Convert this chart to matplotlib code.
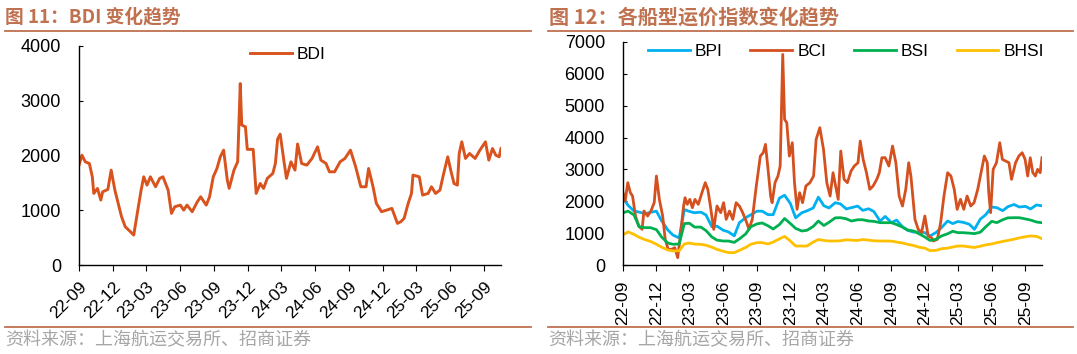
"""
BDI 与各船型运价指数走势（图11、图12）
"""
import matplotlib
matplotlib.use('Agg')
import matplotlib.pyplot as plt
from matplotlib.lines import Line2D
import matplotlib.dates as mdates
import pandas as pd

plt.rcParams['font.family'] = ['Liberation Sans', 'Noto Sans CJK SC', 'DejaVu Sans']
plt.rcParams['axes.unicode_minus'] = False

# ---- 图11 BDI ----
bdi_dates = [
    '2022-09-01', '2022-09-09', '2022-09-18', '2022-09-29', '2022-10-07', '2022-10-11',
    '2022-10-21', '2022-10-30', '2022-11-04', '2022-11-18', '2022-11-27', '2022-12-07',
    '2022-12-16', '2022-12-25', '2023-01-04', '2023-01-18', '2023-01-27', '2023-02-07',
    '2023-02-16', '2023-02-23', '2023-03-04', '2023-03-13', '2023-03-27', '2023-04-07',
    '2023-04-16', '2023-04-30', '2023-05-09', '2023-05-18', '2023-06-02', '2023-06-11',
    '2023-06-20', '2023-07-04', '2023-07-18', '2023-07-27', '2023-08-11', '2023-08-20',
    '2023-08-30', '2023-09-09', '2023-09-18', '2023-09-27', '2023-10-07', '2023-10-12',
    '2023-10-25', '2023-11-04', '2023-11-11', '2023-11-15', '2023-11-25', '2023-11-30',
    '2023-12-16', '2023-12-24', '2024-01-04', '2024-01-13', '2024-01-23', '2024-02-07',
    '2024-02-14', '2024-02-20', '2024-02-27', '2024-03-09', '2024-03-15', '2024-03-27',
    '2024-04-07', '2024-04-14', '2024-04-25', '2024-05-09', '2024-05-23', '2024-06-07',
    '2024-06-16', '2024-06-30', '2024-07-09', '2024-07-23', '2024-08-07', '2024-08-20',
    '2024-09-04', '2024-09-18', '2024-10-02', '2024-10-16', '2024-10-23', '2024-11-04',
    '2024-11-13', '2024-11-27', '2024-12-11', '2024-12-25', '2025-01-09', '2025-01-18',
    '2025-01-27', '2025-02-07', '2025-02-16', '2025-02-20', '2025-03-09', '2025-03-18',
    '2025-04-02', '2025-04-11', '2025-04-22', '2025-05-04', '2025-05-13', '2025-05-25',
    '2025-06-02', '2025-06-11', '2025-06-20', '2025-06-25', '2025-07-02', '2025-07-12',
    '2025-07-23', '2025-08-07', '2025-08-20', '2025-09-04', '2025-09-13', '2025-09-23',
    '2025-10-02', '2025-10-11', '2025-10-16',
]
bdi = [
    1824, 2006, 1885, 1854, 1611, 1307, 1398, 1186, 1337, 1380, 1733, 1368,
    1125, 882, 699, 608, 547, 1003, 1368, 1611, 1459, 1611, 1429, 1581,
    1611, 1368, 942, 1064, 1094, 1003, 1094, 973, 1155, 1246, 1094, 1246,
    1611, 1763, 1976, 2098, 1550, 1400, 1733, 1885, 3314, 2557, 2523, 2112,
    2112, 1307, 1489, 1398, 1581, 1672, 1854, 2300, 2390, 1854, 1583, 1885,
    1733, 2210, 1854, 1824, 1946, 2158, 1915, 1854, 1702, 1702, 1885, 1946,
    2098, 1794, 1429, 1429, 1763, 1429, 1125, 973, 1003, 1034, 760, 790,
    851, 1125, 1307, 1642, 1611, 1277, 1307, 1429, 1307, 1368, 1642, 1976,
    1733, 1489, 1459, 2037, 2250, 1946, 2037, 1946, 2098, 2250, 1915, 2128,
    2006, 1976, 2128,
]

# ---- 图12 BCI（周度波动大，单独取点）----
bci_dates = [
    '2022-09-01', '2022-09-07', '2022-09-14', '2022-09-21', '2022-09-27', '2022-10-05',
    '2022-10-14', '2022-10-23', '2022-10-28', '2022-11-07', '2022-11-16', '2022-11-25',
    '2022-12-01', '2022-12-09', '2022-12-18', '2022-12-25', '2023-01-02', '2023-01-11',
    '2023-01-20', '2023-01-28', '2023-02-04', '2023-02-13', '2023-02-17', '2023-02-23',
    '2023-03-02', '2023-03-09', '2023-03-16', '2023-03-25', '2023-04-04', '2023-04-13',
    '2023-04-20', '2023-04-27', '2023-05-06', '2023-05-15', '2023-05-25', '2023-06-02',
    '2023-06-09', '2023-06-18', '2023-06-27', '2023-07-06', '2023-07-15', '2023-07-24',
    '2023-08-04', '2023-08-10', '2023-08-19', '2023-08-30', '2023-09-10', '2023-09-18',
    '2023-09-24', '2023-10-01', '2023-10-08', '2023-10-12', '2023-10-20', '2023-10-28',
    '2023-11-03', '2023-11-10', '2023-11-15', '2023-11-21', '2023-11-28', '2023-12-06',
    '2023-12-12', '2023-12-19', '2023-12-26', '2024-01-03', '2024-01-12', '2024-01-23',
    '2024-02-02', '2024-02-09', '2024-02-19', '2024-02-29', '2024-03-09', '2024-03-18',
    '2024-03-26', '2024-04-02', '2024-04-09', '2024-04-16', '2024-04-25', '2024-05-04',
    '2024-05-14', '2024-05-23', '2024-06-02', '2024-06-08', '2024-06-16', '2024-06-25',
    '2024-07-04', '2024-07-13', '2024-07-23', '2024-07-30', '2024-08-06', '2024-08-15',
    '2024-08-25', '2024-09-04', '2024-09-13', '2024-09-22', '2024-10-01', '2024-10-10',
    '2024-10-18', '2024-10-24', '2024-11-04', '2024-11-13', '2024-11-22', '2024-12-01',
    '2024-12-10', '2024-12-19', '2024-12-24', '2025-01-04', '2025-01-13', '2025-01-22',
    '2025-02-01', '2025-02-10', '2025-02-19', '2025-02-27', '2025-03-08', '2025-03-17',
    '2025-03-26', '2025-04-05', '2025-04-14', '2025-04-24', '2025-05-03', '2025-05-12',
    '2025-05-20', '2025-05-24', '2025-05-29', '2025-06-05', '2025-06-14', '2025-06-23',
    '2025-06-30', '2025-07-09', '2025-07-18', '2025-07-25', '2025-08-05', '2025-08-14',
    '2025-08-23', '2025-08-31', '2025-09-07', '2025-09-14', '2025-09-21', '2025-09-28',
    '2025-10-04', '2025-10-11', '2025-10-16',
]
bci = [
    2270, 2008, 2584, 2270, 2165, 1538, 1224, 1119, 1695, 1538, 1695, 1956,
    2793, 2060, 1538, 805, 492, 492, 544, 230, 910, 1851, 2113, 1904,
    2060, 1799, 2060, 1904, 2270, 2584, 2374, 1851, 1119, 1851, 1642, 1956,
    1433, 1695, 1433, 1956, 1851, 1642, 1328, 1119, 1433, 2479, 3420, 3525,
    3787, 3002, 2165, 1956, 2584, 2793, 3107, 6611, 4571, 4467, 3420, 3839,
    2584, 1747, 2270, 1956, 2479, 2584, 2793, 3944, 4310, 3630, 2584, 2165,
    2897, 2479, 2060, 3577, 2688, 2584, 2950, 3107, 3211, 3891, 3316, 2897,
    2374, 2479, 2688, 2897, 3368, 3368, 3107, 3734, 3211, 2165, 1851, 2374,
    3211, 2793, 1433, 1119, 1015, 1538, 910, 858, 753, 805, 1328, 2165,
    2897, 2793, 2374, 1747, 2060, 1747, 2165, 1851, 1956, 2374, 2897, 3420,
    3211, 2270, 1642, 3002, 3211, 3839, 3316, 3264, 3211, 2688, 3211, 3420,
    3525, 3316, 2793, 3368, 2897, 2793, 3002, 2897, 3368,
]

# ---- 图12 BPI / BSI / BHSI：半月取点（每月1日、15日）----
half_month_dates = pd.date_range('2022-09-01', periods=76, freq='SMS')
bpi = [
    2110, 1870, 1695, 1660, 1610, 1655, 1690, 1390, 1100, 940, 850, 1740,
    1680, 1640, 1660, 1570, 1200, 1220, 1090, 1040, 915, 1330, 1485, 1575,
    1690, 1690, 1580, 1580, 2100, 2190, 1925, 1480, 1640, 1700, 1790, 2130,
    1860, 1790, 1956, 1920, 1760, 1800, 1850, 1715, 1765, 1680, 1380, 1525,
    1330, 1410, 1200, 1090, 1030, 1040, 1015, 910, 1025, 1170, 1380, 1300,
    1365, 1340, 1280, 1120, 1440, 1570, 1820, 1800, 1705, 1830, 1900, 1820,
    1840, 1760, 1885, 1860,
]
bsi = [
    1640, 1690, 1570, 1200, 1172, 1172, 1110, 880, 690, 650, 660, 1300,
    1310, 1190, 1190, 1080, 880, 780, 753, 753, 710, 820, 975, 1200,
    1290, 1320, 1230, 1130, 1270, 1460, 1300, 1150, 1067, 1090, 1210, 1380,
    1240, 1340, 1480, 1485, 1450, 1381, 1420, 1420, 1381, 1370, 1330, 1328,
    1328, 1270, 1190, 1100, 1065, 980, 880, 770, 810, 910, 980, 1060,
    1015, 1015, 1000, 985, 1030, 1190, 1370, 1330, 1420, 1480, 1485, 1485,
    1445, 1410, 1350, 1328,
]
bhsi = [
    950, 1040, 960, 870, 790, 740, 650, 560, 470, 440, 445, 660,
    690, 655, 649, 620, 560, 490, 430, 390, 387, 460, 550, 650,
    701, 701, 660, 720, 820, 900, 750, 596, 596, 596, 720, 800,
    770, 753, 753, 760, 790, 780, 770, 800, 780, 760, 753, 753,
    750, 720, 690, 650, 610, 560, 530, 450, 460, 510, 530, 565,
    596, 596, 570, 550, 590, 630, 660, 700, 740, 770, 810, 850,
    890, 910, 900, 830,
]

tick_dates = pd.date_range('2022-09-01', '2025-09-01', freq='3MS')
x_start, x_end = pd.Timestamp('2022-09-01'), pd.Timestamp('2025-10-16')

TITLE_C = '#c0714f'
SRC_C = '#a6a6a6'
W, H = 1077, 354

fig = plt.figure(figsize=(W / 100, H / 100), dpi=100)


def box(x0, y0, x1, y1):
    # 像素框 -> figure 坐标
    return [x0 / W, 1 - y1 / H, (x1 - x0) / W, (y1 - y0) / H]


def style_axis(ax, ymax, rot):
    ax.set_xlim(x_start, x_end)
    ax.set_ylim(0, ymax)
    ax.set_yticks(range(0, ymax + 1, 1000))
    ax.set_xticks(tick_dates)
    ax.xaxis.set_major_formatter(mdates.DateFormatter('%y-%m'))
    for s in ('top', 'right'):
        ax.spines[s].set_visible(False)
    for s in ('left', 'bottom'):
        ax.spines[s].set_linewidth(1.0)
    ax.tick_params(axis='y', direction='in', length=3, labelsize=13, pad=13)
    if rot == 45:
        ax.tick_params(axis='x', direction='out', length=4, labelsize=12.5, pad=6)
        plt.setp(ax.get_xticklabels(), rotation=45, ha='right', rotation_mode='anchor')
    else:
        ax.tick_params(axis='x', direction='out', length=4, labelsize=12.5, pad=7)
        plt.setp(ax.get_xticklabels(), rotation=90, ha='center', va='top')


ax1 = fig.add_axes(box(79, 46, 501, 265))
ax1.plot(pd.to_datetime(bdi_dates), bdi, color='#d9531e', lw=2.1, label='BDI')
style_axis(ax1, 4000, 45)
ax1.legend(loc='center', bbox_to_anchor=(0.495, 0.963), frameon=False, fontsize=12.5,
           handlelength=2.4, handletextpad=0.3)

ax2 = fig.add_axes(box(623, 42, 1042, 265))
ax2.plot(half_month_dates, bpi, color='#00b0f0', lw=2.0, label='BPI')
ax2.plot(pd.to_datetime(bci_dates), bci, color='#d4501e', lw=2.0, label='BCI')
ax2.plot(half_month_dates, bsi, color='#00b050', lw=2.0, label='BSI')
ax2.plot(half_month_dates, bhsi, color='#ffc000', lw=2.0, label='BHSI')
style_axis(ax2, 7000, 90)
ax2.legend(loc='center', bbox_to_anchor=(0.532, 0.956), frameon=False, fontsize=12.5,
           ncol=4, handlelength=2.4, handletextpad=0.3, columnspacing=1.6)

# 标题、分隔线、资料来源
title_font = ['Noto Sans CJK SC', 'DejaVu Sans']
fig.text(5 / W, 1 - 17 / H, '图 11：BDI 变化趋势', fontsize=13.5, fontweight='bold',
         color=TITLE_C, family=title_font, va='center')
fig.text(549 / W, 1 - 17 / H, '图 12：各船型运价指数变化趋势', fontsize=14.5, fontweight='bold',
         color=TITLE_C, family=title_font, va='center')
for x0, x1 in ((5, 531), (548, 1073)):
    fig.add_artist(Line2D([x0 / W, x1 / W], [1 - 31 / H] * 2, color=TITLE_C, lw=1.3))
    fig.add_artist(Line2D([x0 / W, x1 / W], [1 - 327 / H] * 2, color=TITLE_C, lw=1.3))
    fig.text(x0 / W, 1 - 340 / H, '资料来源：上海航运交易所、招商证券', fontsize=13,
             color=SRC_C, family=title_font, va='center')

fig.savefig('out.png', dpi=100)
print("saved: out.png")
